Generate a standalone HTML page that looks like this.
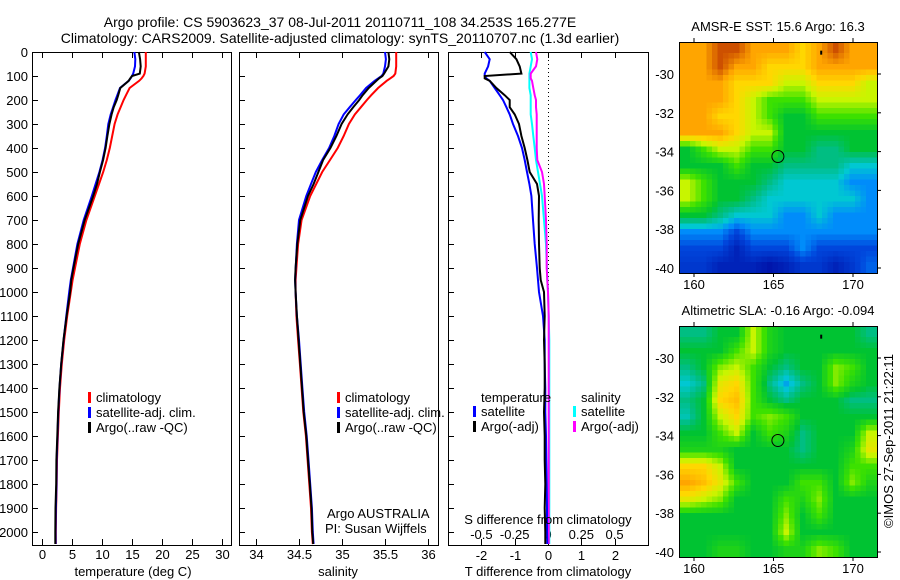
<!DOCTYPE html>
<html><head><meta charset="utf-8"><style>
body{margin:0;background:#fff}
svg{display:block;font-family:"Liberation Sans",sans-serif;font-size:13px}
</style></head><body>
<svg id="c" width="900" height="580" viewBox="0 0 900 580">
<rect width="900" height="580" fill="#fff"/>
<text x="340" y="27" text-anchor="middle" style="font-size:14px">Argo profile: CS 5903623_37 08-Jul-2011 20110711_108 34.253S 165.277E</text>
<text x="340" y="43" text-anchor="middle" style="font-size:14px">Climatology: CARS2009. Satellite-adjusted climatology: synTS_20110707.nc (1.3d earlier)</text>
<g id="g"></g>
</svg>
<script>
const depths=[0,30,60,90,100,110,120,150,180,200,230,260,300,350,400,450,500,550,600,700,800,900,950,1000,1100,1200,1300,1400,1500,1600,1700,1800,1900,2000,2050];
const climT=[17.3,17.3,17.3,17.1,16.9,16.6,16.2,14.6,14.0,13.6,13.1,12.6,12.1,11.7,11.3,10.8,10.2,9.5,8.8,7.4,6.3,5.5,5.1,4.8,4.2,3.7,3.3,3.0,2.8,2.65,2.5,2.45,2.35,2.3,2.3];
const satTdiff=[-1.9,-1.75,-1.8,-1.9,-1.9,-1.85,-1.75,-1.6,-1.45,-1.35,-1.25,-1.15,-1.05,-0.9,-0.78,-0.7,-0.63,-0.56,-0.5,-0.45,-0.4,-0.33,-0.3,-0.27,-0.15,-0.1,-0.1,-0.08,-0.08,-0.06,-0.05,-0.04,-0.03,-0.03,-0.02];
const argoTdiff=[-1.15,-0.95,-0.85,-0.8,-1.9,-1.9,-1.75,-1.55,-1.3,-1.15,-1.15,-1.0,-0.87,-0.8,-0.7,-0.62,-0.55,-0.33,-0.27,-0.28,-0.27,-0.25,-0.22,-0.12,-0.1,-0.12,-0.1,-0.1,-0.12,-0.1,-0.1,-0.08,-0.1,-0.08,-0.08];
const climS=[35.63,35.63,35.63,35.62,35.6,35.56,35.52,35.42,35.34,35.29,35.22,35.15,35.08,35.02,34.95,34.86,34.77,34.7,34.63,34.53,34.49,34.47,34.46,34.46,34.47,34.49,34.51,34.53,34.55,34.58,34.6,34.62,34.64,34.65,34.66];
const satSdiff=[-0.13,-0.12,-0.13,-0.14,-0.14,-0.14,-0.14,-0.14,-0.13,-0.13,-0.13,-0.13,-0.12,-0.11,-0.1,-0.09,-0.075,-0.06,-0.045,-0.03,-0.015,-0.008,-0.005,0,0.005,0.01,0.01,0.01,0.01,0.01,0.01,0.01,0.01,0.01,0.01];
const argoSdiff=[-0.09,-0.08,-0.09,-0.13,-0.13,-0.13,-0.12,-0.11,-0.1,-0.09,-0.09,-0.085,-0.085,-0.085,-0.085,-0.08,-0.045,-0.03,-0.025,-0.015,-0.01,-0.01,-0.005,0,0.005,0.005,0.005,0.005,0.005,0.005,0.005,0.005,0.005,0.005,0.005];
const depthTicks=[0,100,200,300,400,500,600,700,800,900,1000,1100,1200,1300,1400,1500,1600,1700,1800,1900,2000];
const tempTicks=[0,5,10,15,20,25,30];
const salTicks=[34,34.5,35,35.5,36];
const tdiffTicks=[-2,-1,0,1,2];
const sdiffTicks=[-0.5,-0.25,0,0.25,0.5];
const sdiffLabels=['-0.5','-0.25','0','0.25','0.5'];
const sstGrid=[
[7,7,8,8,7,7,7,6,7,8,7,7],[7,7,8,7,7,6,6,6,7,7,7,7],[7,7,7,6,6,6,5,5,6,6,6,5],[7,7,7,6,5,4,4,4,5,5,5,5],
[7,7,6,6,5,4,3,3,4,4,4,4],[7,7,7,6,5,5,3,3,3,3,3,3],[3,4,5,5,4,4,3,3,2.5,2.5,3,3],[3,3,3,4,3,3,2.5,2.5,2.5,2.5,2,2],
[5,4,3,3,3,2.5,2,2,2,2,1.5,1.5],[5,4,3,3,2.5,2,2,2,2,2,2,1.5],[3,3,2.5,2,2,2,1.5,1.5,2,1.5,1.5,1.5],[1.5,1.5,1.5,1,1.5,1.5,1.5,1.5,1.5,1.5,1.5,1.5],
[1,1,1,0.5,1,1,1,1.5,1,1,1,1],[0.8,0.8,0.5,0.5,0.5,0.3,0.5,0.8,0.8,0.5,0.8,1.2]];
const slaGrid=[
[2.5,2.5,3,3,5,3.5,3,3,3,3,3,2.5],[3,3,3,4,5,3.5,3,3,3,3,3,3],[2.5,3,4.5,5,4,3,2.5,3,3,4.5,4,3],[2,2.5,5.5,6,4,2.5,1.7,2.5,3,4.5,3.5,3],
[2.5,3,6,6.5,4,3,2.5,3,3,3,2.5,2.5],[2.2,3,5,6,4,4.5,4,3,3,3,3,3],[3,3,4,5,3,4,3.5,2.5,3,3,3,5],[3.5,3.5,3.5,3,3,3,3,2.5,3,3,3.5,5.5],
[6,6,5,3,3,3,3,3,3,3,4,4],[7,6.5,5.5,4,3,3,3,4,4,3,4.5,3.5],[5.5,5,4.5,3,3,3,4,3.5,4.5,3,3,3],[3,3,3,3,3,3,4.5,3,4,3,3,3],
[3,3,3,3,3,3,5,3,3,3,3,3],[3,3,3.5,3.5,3,3,3.5,3.5,4.5,4,3,3]];
const latTicks=[-30,-32,-34,-36,-38,-40];
const lonTicks=[160,165,170];
const argoPos=[165.277,-34.253];

const NS='http://www.w3.org/2000/svg';
const G=document.getElementById('g');
function el(tag,attrs,parent){const e=document.createElementNS(NS,tag);for(const k in attrs)e.setAttribute(k,attrs[k]);(parent||G).appendChild(e);return e;}
function txt(x,y,s,anchor,parent){const t=el('text',{x:x,y:y,'text-anchor':anchor||'start'},parent);t.textContent=s;return t;}

const TOP=52,BOT=545;
const yD=d=>52+d*0.24;
const xT=t=>42+6*t;
const xS=s=>256+86*(s-34);
const xTd=d=>548+33.3*d;
const xSd=d=>548+133.2*d;

function panel(name,x0,x1){
  const r=el('rect',{x:x0+0.5,y:TOP+0.5,width:x1-x0,height:BOT-TOP,fill:'none',stroke:'#000','stroke-width':1});
  
  
  depthTicks.forEach(d=>{
    const y=Math.round(yD(d))+0.5;
    const t=el('line',{x1:x0,x2:x0+6,y1:y,y2:y,stroke:'#000'});
    
    
  });
}
function xticks(name,vals,fx,labels,ly){
  vals.forEach((v,i)=>{
    const x=Math.round(fx(v))+0.5;
    el('line',{x1:x,x2:x,y1:BOT,y2:BOT-6,stroke:'#000'});
    el('line',{x1:x,x2:x,y1:TOP,y2:TOP+6,stroke:'#000'});
    if(labels){const t=txt(x,ly,labels[i],'middle');
      
      }
  });
}
function line(name,xs,color,w){
  const pts=depths.map((d,i)=>xs[i].toFixed(1)+','+yD(d).toFixed(1)).join(' ');
  const p=el('polyline',{points:pts,fill:'none',stroke:color,'stroke-width':w||2});
  
  
}
function legendBar(x,y,color){el('rect',{x:x,y:y-10,width:3,height:11,fill:color});}

depthTicks.forEach(d=>{const t=txt(28,yD(d)+5,String(d),'end');
  
  });

panel('temperature-panel',32,231);
xticks('temperature',tempTicks,xT,tempTicks.map(String),559);
line('temperature-climatology-line',depths.map((d,i)=>xT(climT[i])),'#ff0000');
line('temperature-satellite-line',depths.map((d,i)=>xT(climT[i]+satTdiff[i])),'#0000ff');
line('temperature-argo-line',depths.map((d,i)=>xT(climT[i]+argoTdiff[i])),'#000000');
txt(133,576,'temperature (deg C)','middle');

panel('salinity-panel',239,438);
xticks('salinity',salTicks,xS,salTicks.map(String),559);
line('salinity-climatology-line',depths.map((d,i)=>xS(climS[i])),'#ff0000');
line('salinity-satellite-line',depths.map((d,i)=>xS(climS[i]+satSdiff[i])),'#0000ff');
line('salinity-argo-line',depths.map((d,i)=>xS(climS[i]+argoSdiff[i])),'#000000');
txt(338,576,'salinity','middle');
txt(327,518,'Argo AUSTRALIA','start');
txt(325,533,'PI: Susan Wijffels','start');

panel('difference-panel',448,648);
xticks('t-difference',tdiffTicks,xTd,tdiffTicks.map(String),560);
sdiffTicks.forEach((v,i)=>{const t=txt(xSd(v),539,sdiffLabels[i],'middle');
  
  });
el('line',{x1:548.5,x2:548.5,y1:TOP,y2:BOT,stroke:'#000','stroke-dasharray':'1,3'});
line('s-diff-satellite-line',depths.map((d,i)=>xSd(satSdiff[i])),'#00ffff');
line('s-diff-argo-line',depths.map((d,i)=>xSd(argoSdiff[i])),'#ff00ff');
line('t-diff-satellite-line',depths.map((d,i)=>xTd(satTdiff[i])),'#0000ff');
line('t-diff-argo-line',depths.map((d,i)=>xTd(argoTdiff[i])),'#000000');
txt(548,524,'S difference from climatology','middle');
txt(548,576,'T difference from climatology','middle');

[[88,'temperature-legend'],[337,'salinity-legend']].forEach(([x,n])=>{
  const items=[['climatology','#ff0000'],['satellite-adj. clim.','#0000ff'],['Argo(..raw -QC)','#000000']];
  items.forEach((it,i)=>{const y=402+i*15;legendBar(x,y,it[1]);
    const t=txt(x+8,y,it[0]);
    
    });
});
txt(481,402,'temperature');
txt(581,402,'salinity');
[[473,'satellite','#0000ff'],[473,'Argo(-adj)','#000000'],[573,'satellite','#00ffff'],[573,'Argo(-adj)','#ff00ff']].forEach((it,i)=>{
  const y=416+(i%2)*15;legendBar(it[0],y,it[2]);
  const t=txt(it[0]+8,y,it[1]);
  
  
});

const stops=[[0,[0,0,150]],[1,[0,70,220]],[1.5,[0,140,250]],[2,[0,200,210]],[2.5,[0,190,130]],[3,[0,195,50]],[4,[60,225,0]],[5,[200,245,0]],[6,[255,215,0]],[7,[255,165,0]],[8,[205,80,0]]];
function cmap(v){for(let i=0;i<stops.length-1;i++){const a=stops[i],b=stops[i+1];if(v<=b[0]){const f=Math.max(0,(v-a[0])/(b[0]-a[0]));
  return 'rgb('+a[1].map((c,k)=>Math.round(c+(b[1][k]-c)*f)).join(',')+')';}}return 'rgb(205,80,0)';}
function sample(grid,r,c){ // bilinear sample in grid index space
  const R=grid.length,C=grid[0].length;
  r=Math.max(0,Math.min(R-1,r));c=Math.max(0,Math.min(C-1,c));
  const r0=Math.floor(r),c0=Math.floor(c),r1=Math.min(R-1,r0+1),c1=Math.min(C-1,c0+1),fr=r-r0,fc=c-c0;
  return grid[r0][c0]*(1-fr)*(1-fc)+grid[r0][c1]*(1-fr)*fc+grid[r1][c0]*fr*(1-fc)+grid[r1][c1]*fr*fc;
}

function map(name,title,grid,x0,y0,lat30y){
  const W=198,H=231,UP=3,NC=12*UP,NR=14*UP,cw=W/NC,ch=H/NR;
  const gg=el('g',{'shape-rendering':'crispEdges'});
  
  
  for(let r=0;r<NR;r++)for(let c=0;c<NC;c++){
    const v=sample(grid,(r+0.5)/UP-0.5,(c+0.5)/UP-0.5);
    el('rect',{x:(x0+c*cw).toFixed(2),y:(y0+r*ch).toFixed(2),width:(cw+0.7).toFixed(2),height:(ch+0.7).toFixed(2),fill:cmap(v)},gg);
  }
  el('rect',{x:x0+0.5,y:y0+0.5,width:W,height:H,fill:'none',stroke:'#000'});
  const lx=lon=>694+15.9*(lon-160);
  const ly=lat=>lat30y+19.4*(-30-lat);
  lonTicks.forEach(l=>{const x=lx(l);el('line',{x1:x,x2:x,y1:y0,y2:y0-4,stroke:'#000'});el('line',{x1:x,x2:x,y1:y0+H,y2:y0+H+4,stroke:'#000'});
    const t=txt(x,y0+H+16,String(l),'middle');});
  latTicks.forEach(l=>{const y=ly(l);el('line',{x1:x0+W,x2:x0+W+4,y1:y,y2:y,stroke:'#000'});
    const t=txt(674,y+5,String(l),'end');});
  const c=el('circle',{cx:lx(argoPos[0]),cy:ly(argoPos[1]),r:6,fill:'none',stroke:'#000','stroke-width':1});
  
  
  el('rect',{x:lx(168)-1,y:ly(-28.9)-2,width:2,height:4,fill:'#000'});
  const t=txt(x0+W/2,y0-11,title,'middle');
  
  
}
map('sst-map','AMSR-E SST: 15.6 Argo: 16.3',sstGrid,679,42,74);
map('sla-map','Altimetric SLA: -0.16 Argo: -0.094',slaGrid,679,326,358);
const cr=txt(0,0,'\u00A9IMOS 27-Sep-2011 21:22:11','middle');
cr.setAttribute('transform','translate(893,441) rotate(-90)');


</script>
</body></html>
